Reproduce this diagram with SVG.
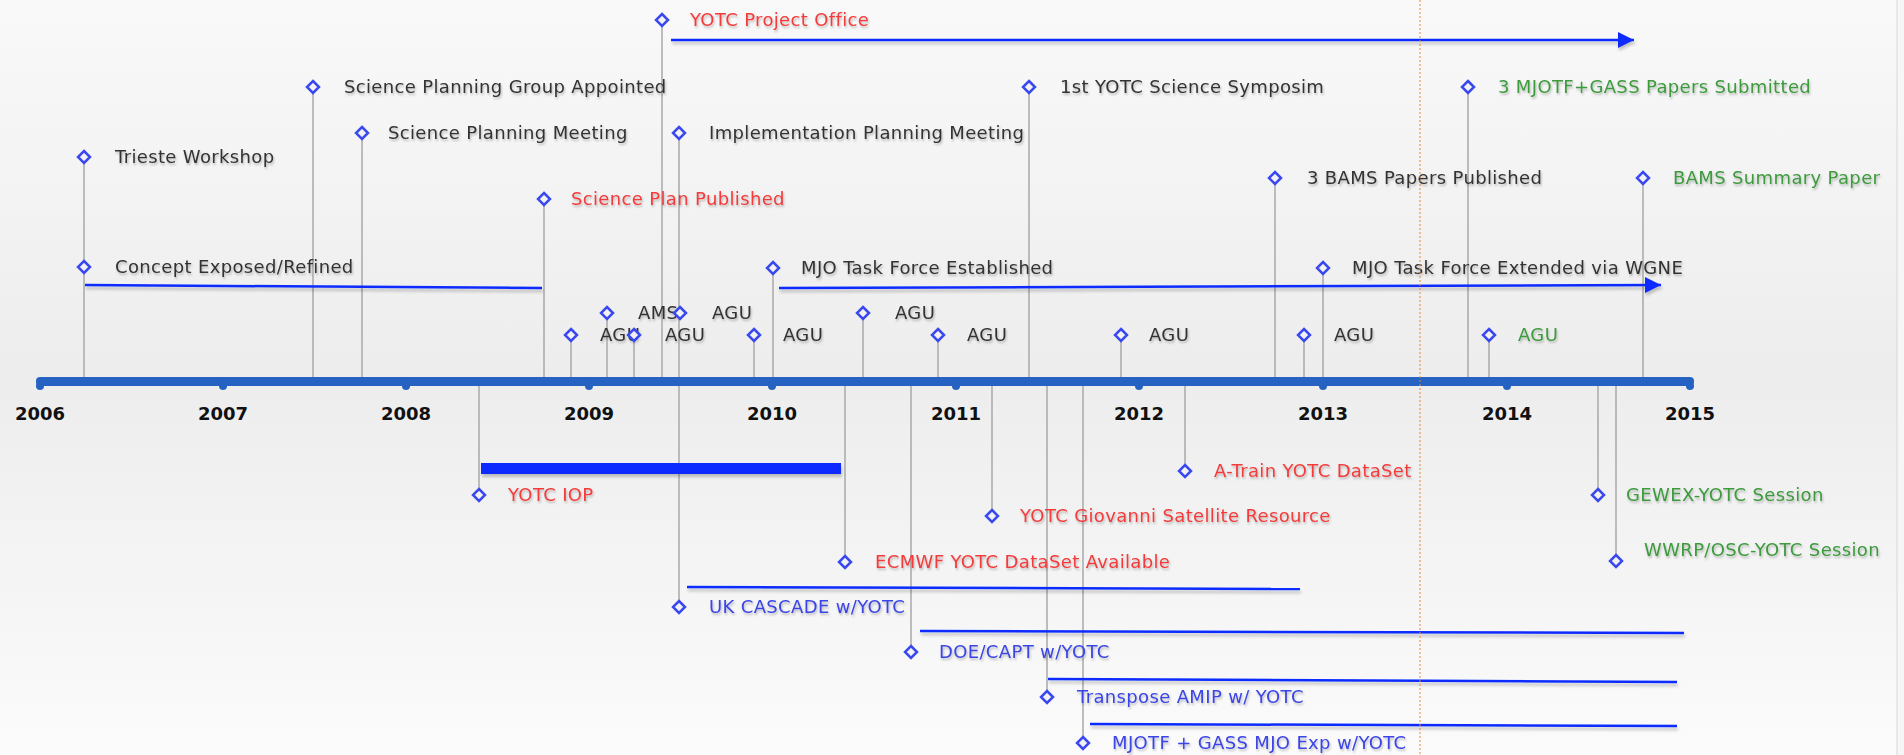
<svg xmlns="http://www.w3.org/2000/svg" width="1904" height="755" viewBox="0 0 1904 755">
<defs>
<linearGradient id="bg" x1="0" y1="0" x2="0" y2="1">
<stop offset="0" stop-color="#f9f9f9"/>
<stop offset="0.5" stop-color="#ededed"/>
<stop offset="1" stop-color="#fbfbfb"/>
</linearGradient>
<filter id="sh" x="-5%" y="-50%" width="110%" height="200%">
<feDropShadow dx="1" dy="2" stdDeviation="1.2" flood-color="#000" flood-opacity="0.25"/>
</filter>
<filter id="lsh" filterUnits="userSpaceOnUse" x="0" y="0" width="1904" height="755">
<feDropShadow dx="1" dy="3" stdDeviation="1.5" flood-color="#000" flood-opacity="0.22"/>
</filter>
<marker id="arr" viewBox="0 0 10 10" refX="10" refY="5" markerWidth="16" markerHeight="16" markerUnits="userSpaceOnUse" orient="auto">
<path d="M0,0 L10,5 L0,10 z" fill="#0a2cff"/>
</marker>
<path id="dm" d="M0,-6 L6,0 L0,6 L-6,0 Z"/>
</defs>
<style>
.t{font-family:"DejaVu Sans",Verdana,sans-serif;font-size:18px;letter-spacing:0.35px;fill:#333;filter:url(#sh)}
.r{fill:#f43a3a}
.g{fill:#3d9a3d}
.b{fill:#3a44e6}
.yr{font-family:"DejaVu Sans",Verdana,sans-serif;font-size:18px;font-weight:bold;fill:#111;text-anchor:middle}
.stem{stroke:#a8a8a8;stroke-width:1.5;fill:none}
.ln{stroke:#0a2cff;stroke-width:2.5;fill:none}
.d{fill:#f2f2f2;stroke:#3a48f0;stroke-width:2.5}
</style>
<rect x="0" y="0" width="1904" height="755" fill="url(#bg)"/>
<rect x="1897" y="0" width="7" height="755" fill="#f6f6f6"/>
<line x1="1897" y1="0" x2="1897" y2="755" stroke="#d8d8d8" stroke-width="1"/>

<g id="stems">
<line class="stem" x1="84" y1="157" x2="84" y2="380"/>
<line class="stem" x1="313" y1="87" x2="313" y2="380"/>
<line class="stem" x1="362" y1="133" x2="362" y2="380"/>
<line class="stem" x1="544" y1="199" x2="544" y2="380"/>
<line class="stem" x1="662" y1="20" x2="662" y2="380"/>
<line class="stem" x1="679" y1="133" x2="679" y2="607"/>
<line class="stem" x1="1029" y1="87" x2="1029" y2="380"/>
<line class="stem" x1="773" y1="268" x2="773" y2="380"/>
<line class="stem" x1="1275" y1="178" x2="1275" y2="380"/>
<line class="stem" x1="1323" y1="268" x2="1323" y2="380"/>
<line class="stem" x1="1468" y1="87" x2="1468" y2="380"/>
<line class="stem" x1="1643" y1="178" x2="1643" y2="380"/>
<line class="stem" x1="571" y1="335" x2="571" y2="380"/>
<line class="stem" x1="607" y1="313" x2="607" y2="380"/>
<line class="stem" x1="634" y1="335" x2="634" y2="380"/>
<line class="stem" x1="754" y1="335" x2="754" y2="380"/>
<line class="stem" x1="863" y1="313" x2="863" y2="380"/>
<line class="stem" x1="938" y1="335" x2="938" y2="380"/>
<line class="stem" x1="1121" y1="335" x2="1121" y2="380"/>
<line class="stem" x1="1304" y1="335" x2="1304" y2="380"/>
<line class="stem" x1="1489" y1="335" x2="1489" y2="380"/>
<line class="stem" x1="479" y1="380" x2="479" y2="495"/>
<line class="stem" x1="845" y1="380" x2="845" y2="562"/>
<line class="stem" x1="911" y1="380" x2="911" y2="652"/>
<line class="stem" x1="992" y1="380" x2="992" y2="516"/>
<line class="stem" x1="1047" y1="380" x2="1047" y2="697"/>
<line class="stem" x1="1083" y1="380" x2="1083" y2="743"/>
<line class="stem" x1="1185" y1="380" x2="1185" y2="471"/>
<line class="stem" x1="1598" y1="380" x2="1598" y2="495"/>
<line class="stem" x1="1616" y1="380" x2="1616" y2="561"/>
</g>

<g id="axis">
<rect x="36" y="377" width="1658" height="9" rx="4" fill="#2662c2"/>
<g fill="#2662c2">
<circle cx="40" cy="386" r="4"/><circle cx="223" cy="386" r="4"/><circle cx="406" cy="386" r="4"/><circle cx="589" cy="386" r="4"/><circle cx="772" cy="386" r="4"/><circle cx="956" cy="386" r="4"/><circle cx="1139" cy="386" r="4"/><circle cx="1323" cy="386" r="4"/><circle cx="1507" cy="386" r="4"/><circle cx="1690" cy="386" r="4"/>
</g>
<text class="yr" x="40" y="420">2006</text>
<text class="yr" x="223" y="420">2007</text>
<text class="yr" x="406" y="420">2008</text>
<text class="yr" x="589" y="420">2009</text>
<text class="yr" x="772" y="420">2010</text>
<text class="yr" x="956" y="420">2011</text>
<text class="yr" x="1139" y="420">2012</text>
<text class="yr" x="1323" y="420">2013</text>
<text class="yr" x="1507" y="420">2014</text>
<text class="yr" x="1690" y="420">2015</text>
</g>

<g id="connectors" filter="url(#lsh)">
<line class="ln" x1="85" y1="285" x2="542" y2="288"/>
<line class="ln" x1="671" y1="40" x2="1634" y2="40" marker-end="url(#arr)"/>
<line class="ln" x1="779" y1="288" x2="1661" y2="285" marker-end="url(#arr)"/>
<rect x="481" y="463" width="360" height="11" fill="#0a2cff"/>
<line class="ln" x1="687" y1="587" x2="1300" y2="589"/>
<line class="ln" x1="920" y1="631" x2="1684" y2="633"/>
<line class="ln" x1="1048" y1="679" x2="1677" y2="682"/>
<line class="ln" x1="1090" y1="724" x2="1677" y2="726"/>
</g>

<g id="e1"><use href="#dm" x="84" y="157" class="d"/><text class="t" x="115" y="163">Trieste Workshop</text></g>
<g id="e2"><use href="#dm" x="84" y="267" class="d"/><text class="t" x="115" y="273">Concept Exposed/Refined</text></g>
<g id="e3"><use href="#dm" x="313" y="87" class="d"/><text class="t" x="344" y="93">Science Planning Group Appointed</text></g>
<g id="e4"><use href="#dm" x="362" y="133" class="d"/><text class="t" x="388" y="139">Science Planning Meeting</text></g>
<g id="e5"><use href="#dm" x="544" y="199" class="d"/><text class="t r" x="571" y="205">Science Plan Published</text></g>
<g id="e6"><use href="#dm" x="662" y="20" class="d"/><text class="t r" x="690" y="26">YOTC Project Office</text></g>
<g id="e7"><use href="#dm" x="679" y="133" class="d"/><text class="t" x="709" y="139">Implementation Planning Meeting</text></g>
<g id="e8"><use href="#dm" x="1029" y="87" class="d"/><text class="t" x="1060" y="93">1st YOTC Science Symposim</text></g>
<g id="e9"><use href="#dm" x="773" y="268" class="d"/><text class="t" x="801" y="274">MJO Task Force Established</text></g>
<g id="e10"><use href="#dm" x="1275" y="178" class="d"/><text class="t" x="1307" y="184">3 BAMS Papers Published</text></g>
<g id="e11"><use href="#dm" x="1323" y="268" class="d"/><text class="t" x="1352" y="274">MJO Task Force Extended via WGNE</text></g>
<g id="e12"><use href="#dm" x="1468" y="87" class="d"/><text class="t g" x="1498" y="93">3 MJOTF+GASS Papers Submitted</text></g>
<g id="e13"><use href="#dm" x="1643" y="178" class="d"/><text class="t g" x="1673" y="184">BAMS Summary Paper</text></g>

<g id="agu1"><use href="#dm" x="571" y="335" class="d"/><text class="t" x="600" y="341">AGU</text></g>
<g id="ams1"><use href="#dm" x="607" y="313" class="d"/><text class="t" x="638" y="319">AMS</text></g>
<g id="agu2"><use href="#dm" x="634" y="335" class="d"/><text class="t" x="665" y="341">AGU</text></g>
<g id="agu3"><use href="#dm" x="680" y="313" class="d"/><text class="t" x="712" y="319">AGU</text></g>
<g id="agu4"><use href="#dm" x="754" y="335" class="d"/><text class="t" x="783" y="341">AGU</text></g>
<g id="agu5"><use href="#dm" x="863" y="313" class="d"/><text class="t" x="895" y="319">AGU</text></g>
<g id="agu6"><use href="#dm" x="938" y="335" class="d"/><text class="t" x="967" y="341">AGU</text></g>
<g id="agu7"><use href="#dm" x="1121" y="335" class="d"/><text class="t" x="1149" y="341">AGU</text></g>
<g id="agu8"><use href="#dm" x="1304" y="335" class="d"/><text class="t" x="1334" y="341">AGU</text></g>
<g id="agu9"><use href="#dm" x="1489" y="335" class="d"/><text class="t g" x="1518" y="341">AGU</text></g>

<g id="b1"><use href="#dm" x="479" y="495" class="d"/><text class="t r" x="508" y="501">YOTC IOP</text></g>
<g id="b2"><use href="#dm" x="679" y="607" class="d"/><text class="t b" x="709" y="613">UK CASCADE w/YOTC</text></g>
<g id="b3"><use href="#dm" x="845" y="562" class="d"/><text class="t r" x="875" y="568">ECMWF YOTC DataSet Available</text></g>
<g id="b4"><use href="#dm" x="911" y="652" class="d"/><text class="t b" x="939" y="658">DOE/CAPT w/YOTC</text></g>
<g id="b5"><use href="#dm" x="992" y="516" class="d"/><text class="t r" x="1020" y="522">YOTC Giovanni Satellite Resource</text></g>
<g id="b6"><use href="#dm" x="1047" y="697" class="d"/><text class="t b" x="1077" y="703">Transpose AMIP w/ YOTC</text></g>
<g id="b7"><use href="#dm" x="1083" y="743" class="d"/><text class="t b" x="1112" y="749">MJOTF + GASS MJO Exp w/YOTC</text></g>
<g id="b8"><use href="#dm" x="1185" y="471" class="d"/><text class="t r" x="1214" y="477">A-Train YOTC DataSet</text></g>
<g id="b9"><use href="#dm" x="1598" y="495" class="d"/><text class="t g" x="1626" y="501">GEWEX-YOTC Session</text></g>
<g id="b10"><use href="#dm" x="1616" y="561" class="d"/><text class="t g" x="1644" y="556">WWRP/OSC-YOTC Session</text></g>

<line id="today" x1="1420" y1="0" x2="1420" y2="755" stroke="#e8862e" stroke-width="1" stroke-dasharray="2,2"/>
</svg>
